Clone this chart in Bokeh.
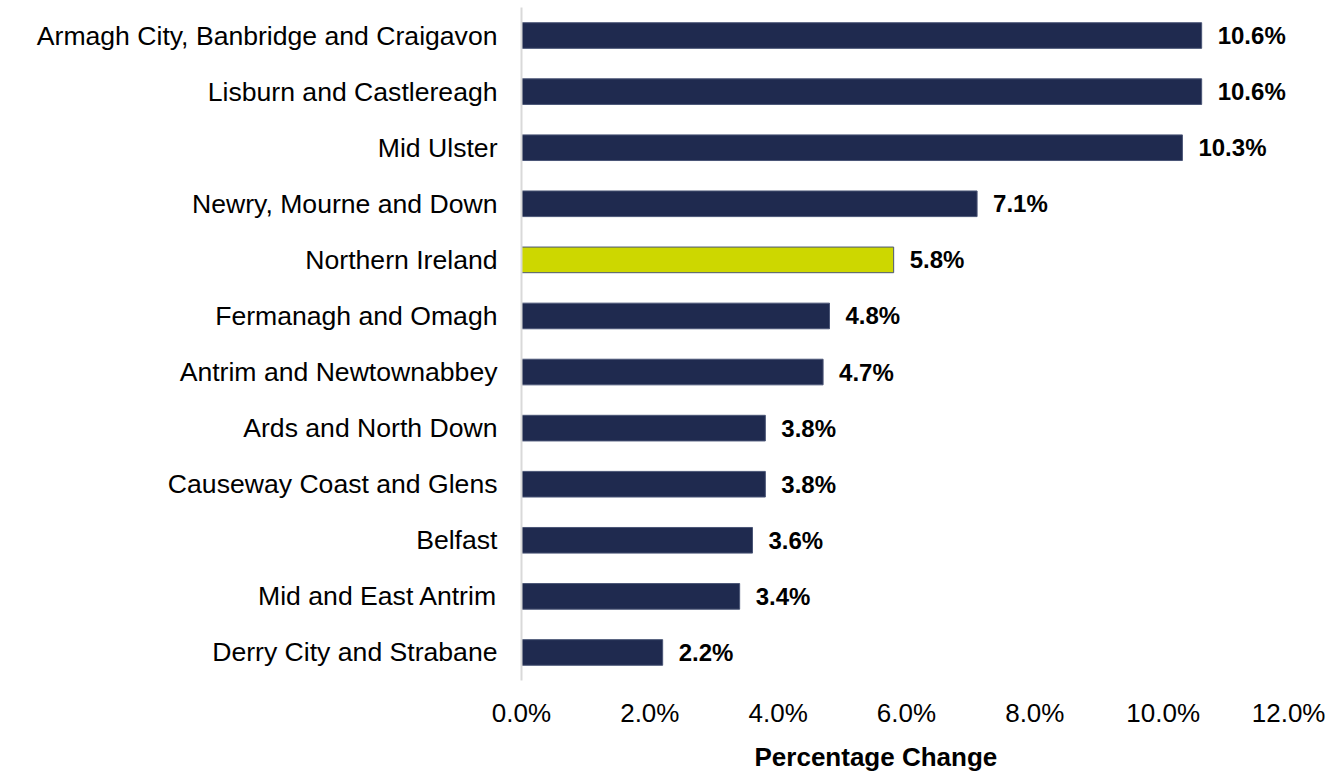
from bokeh.plotting import figure
from bokeh.models import ColumnDataSource, FactorRange, Range1d, Title, FixedTicker, CustomJSTickFormatter
from bokeh.embed import file_html
from bokeh.resources import INLINE
from bokeh.core.properties import value

# ---- data (top to bottom as displayed) ----
areas = [
    "Armagh City, Banbridge and Craigavon",
    "Lisburn and Castlereagh",
    "Mid Ulster",
    "Newry, Mourne and Down",
    "Northern Ireland",
    "Fermanagh and Omagh",
    "Antrim and Newtownabbey",
    "Ards and North Down",
    "Causeway Coast and Glens",
    "Belfast",
    "Mid and East Antrim",
    "Derry City and Strabane",
]
pct_change = [10.6, 10.6, 10.3, 7.1, 5.8, 4.8, 4.7, 3.8, 3.8, 3.6, 3.4, 2.2]
x_ticks = [0, 2, 4, 6, 8, 10, 12]
x_title = "Percentage Change"

NAVY = "#1F2A4F"
LIME = "#CDD700"
FONT = "Liberation Sans"

colors = [LIME if a == "Northern Ireland" else NAVY for a in areas]
labels = ["%.1f%%" % v for v in pct_change]

src = ColumnDataSource(dict(area=areas, val=pct_change, color=colors, label=labels))

p = figure(
    width=1325, height=781,
    y_range=FactorRange(factors=list(reversed(areas))),
    x_range=Range1d(0, 12),
    output_backend="svg", toolbar_location=None,
    min_border_left=521, min_border_right=34, min_border_top=7, min_border_bottom=0,
)
p.outline_line_color = None
p.grid.visible = False

p.hbar(y="area", right="val", left=0, height=0.457, source=src,
       fill_color="color", line_color="#4A5576", line_width=1)

p.text(x="val", y="area", text="label", source=src, x_offset=16,
       text_font=value(FONT), text_font_style="bold", text_font_size="24px",
       text_baseline="middle", text_align="left", text_color="#000000")

# x axis
p.xaxis.ticker = FixedTicker(ticks=x_ticks)
p.xaxis.formatter = CustomJSTickFormatter(code="return tick.toFixed(1) + '%';")
p.xaxis.axis_line_color = None
p.xaxis.major_tick_line_color = None
p.xaxis.minor_tick_line_color = None
p.xaxis.major_label_text_font = FONT
p.xaxis.major_label_text_font_size = "26px"
p.xaxis.major_label_text_color = "#000000"
p.xaxis.major_label_standoff = 11

# y axis
p.yaxis.axis_line_color = "#D9D9D9"
p.yaxis.axis_line_width = 2
p.yaxis.major_tick_line_color = None
p.yaxis.minor_tick_line_color = None
p.yaxis.major_label_text_font = FONT
p.yaxis.major_label_text_font_size = "26.6px"
p.yaxis.major_label_text_color = "#000000"
p.yaxis.major_label_standoff = 18

# axis title below the tick labels
p.add_layout(Title(text=x_title, align="left", offset=233,
                   text_font=FONT, text_font_size="26px", text_font_style="bold",
                   text_color="#000000", standoff=19), "below")

open("out.html", "w").write(file_html(p, INLINE))
